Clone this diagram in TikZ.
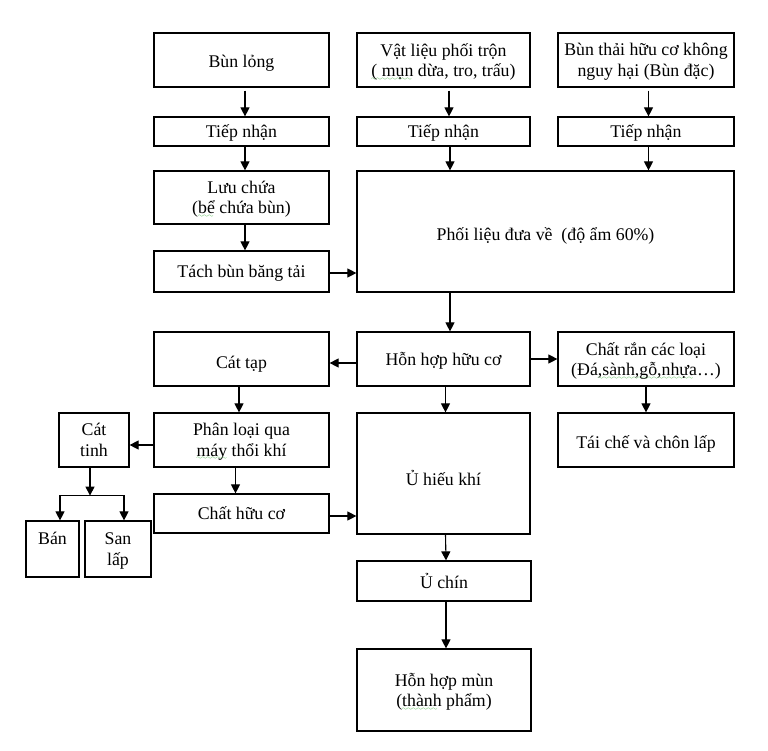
\documentclass[tikz,border=0pt]{standalone}
\usepackage{fontspec}
\setmainfont{Liberation Serif}
\usetikzlibrary{arrows.meta}
\definecolor{spellgreen}{RGB}{40,165,40}
% green wavy proofing mark under a word
\font\wavyfont=lasy6\relax
\newcommand\spellmark[1]{\setbox0\hbox{#1}\rlap{\textcolor{spellgreen}{\lower3.5pt\hbox to\wd0{\leaders\hbox{\wavyfont\char58}\hfil}}}\box0\relax}
% lower a one-line label inside its box without changing the box
\newcommand\lowered[2]{\raisebox{-#1}[\height][\depth]{#2}}
\tikzset{
  box/.style={draw, line width=1.2pt, inner sep=2pt, align=center, text depth=0pt,
    font=\fontsize{17.8}{20.5}\selectfont},
  arr/.style={-{Triangle[length=9pt,width=9pt]}, line width=1.1pt},
}
\begin{document}
\begin{tikzpicture}[x=1pt,y=-1pt]
\useasboundingbox (0,0) rectangle (768,750);

% top row: inputs
\node[box, minimum width=175pt, minimum height=54pt] (bl) at (241.5,60) {\lowered{1.5pt}{Bùn lỏng}};
\node[box, minimum width=173pt, minimum height=54pt] (vl) at (443.5,60) {Vật liệu phối trộn\\\spellmark{( mụn} dừa, tro, trấu)};
\node[box, minimum width=176pt, minimum height=54pt] (bt) at (646,60) {Bùn thải hữu cơ không\\nguy hại (Bùn đặc)};

% reception
\node[box, minimum width=175pt, minimum height=29pt] (tn1) at (241.5,131.5) {Tiếp nhận};
\node[box, minimum width=173pt, minimum height=29pt] (tn2) at (443.5,131.5) {Tiếp nhận};
\node[box, minimum width=176pt, minimum height=29pt] (tn3) at (646,131.5) {Tiếp nhận};

% storage and mixing
\node[box, minimum width=175pt, minimum height=53pt] (lc) at (241.5,197.5) {Lưu chứa\\(\spellmark{bể} chứa bùn)};
\node[box, minimum width=377pt, minimum height=121pt] (pl) at (545.5,231.5) {\lowered{3pt}{Phối liệu đưa về\ \ (độ ẩm 60\%)}};
\node[box, minimum width=175pt, minimum height=41pt] (tb) at (241.5,271.5) {Tách bùn băng tải};

% separation
\node[box, minimum width=173pt, minimum height=54pt] (hh) at (443.5,359) {Hỗn hợp hữu cơ};
\node[box, minimum width=175pt, minimum height=54pt] (ct) at (241.5,359) {\lowered{3pt}{Cát tạp}};
\node[box, minimum width=176pt, minimum height=54pt] (cr) at (646,359) {Chất rắn các loại\\(Đá\spellmark{,sành,gỗ,nhựa}…)};

\node[box, minimum width=175pt, minimum height=54pt] (pq) at (241.5,440) {Phân loại qua\\\spellmark{máy} thổi khí};
\node[box, minimum width=173pt, minimum height=121pt] (uk) at (443.5,473.5) {\lowered{4pt}{Ủ hiếu khí}};
\node[box, minimum width=176pt, minimum height=54pt] (tc) at (646,440) {\lowered{2.5pt}{Tái chế và chôn lấp}};
\node[box, minimum width=70pt, minimum height=54pt] (cti) at (94,440) {Cát\\tinh};
\node[box, minimum width=175pt, minimum height=39pt] (ch) at (241.5,513.5) {Chất hữu cơ};
\node[box, minimum width=53pt, minimum height=56pt] (ban) at (52.5,549) {Bán\\\phantom{lấp}};
\node[box, minimum width=66pt, minimum height=56pt] (sl) at (118,549) {San\\lấp};

% maturing and product
\node[box, minimum width=174pt, minimum height=40pt] (uc) at (444,581) {Ủ chín};
\node[box, minimum width=174pt, minimum height=82pt] (hm) at (444,690) {Hỗn hợp mùn\\(\spellmark{thành} phẩm)};

% connectors: left column
\draw[arr] ([xshift=3.5pt,yshift=-3pt]bl.south) -- ([xshift=3.5pt]tn1.north);
\draw[arr] ([xshift=3.5pt]tn1.south) -- ([xshift=3.5pt]lc.north);
\draw[arr] ([xshift=3.5pt]lc.south) -- ([xshift=3.5pt]tb.north);
\path ([yshift=-1.5pt]tb.east) coordinate (tbe);
\draw[arr] (tbe) -- (tbe -| pl.west);

% connectors: middle and right inputs
\draw[arr] ([xshift=5.5pt,yshift=-3pt]vl.south) -- ([xshift=5.5pt]tn2.north);
\path ([xshift=6.5pt]tn2.south) coordinate (t2s);
\draw[arr] (t2s) -- (t2s |- pl.north);
\draw[arr] ([xshift=2.5pt,yshift=-3pt]bt.south) -- ([xshift=2.5pt]tn3.north);
\path ([xshift=2.5pt]tn3.south) coordinate (t3s);
\draw[arr] (t3s) -- (t3s |- pl.north);

% connectors: mixing to separation
\path ([xshift=6.5pt]hh.north) coordinate (hhn);
\draw[arr] (hhn |- pl.south) -- (hhn);
\path ([yshift=-4pt]hh.west) coordinate (hhw);
\draw[arr] (hhw) -- (hhw -| ct.east);
\draw[arr] (hh.east) -- (cr.west);
\draw[arr] ([xshift=-2.5pt]ct.south) -- ([xshift=-2.5pt]pq.north);
\draw[arr] ([xshift=2pt]hh.south) -- ([xshift=2pt]uk.north);
\draw[arr] (cr.south) -- (tc.north);
\path ([yshift=-5pt]pq.west) coordinate (pqw);
\draw[arr] (pqw) -- (pqw -| cti.east);
\draw[arr] ([xshift=-6pt]pq.south) -- ([xshift=-6pt]ch.north);
\path ([yshift=-2.5pt]ch.east) coordinate (che);
\draw[arr] (che) -- (che -| uk.west);

% sand split
\path ([xshift=-4pt]cti.south) coordinate (cts);
\path ([yshift=-28pt]cts) coordinate (sp);
\draw[arr] (cts) -- (sp);
\draw[arr] (sp) -| ([xshift=7.5pt]ban.north);
\draw[arr] (sp) -| ([xshift=6pt]sl.north);

% maturing chain
\draw[arr] ([xshift=2pt]uk.south) -- ([xshift=2pt]uc.north);
\draw[arr] ([xshift=2pt]uc.south) -- ([xshift=2pt]hm.north);
\end{tikzpicture}
\end{document}
